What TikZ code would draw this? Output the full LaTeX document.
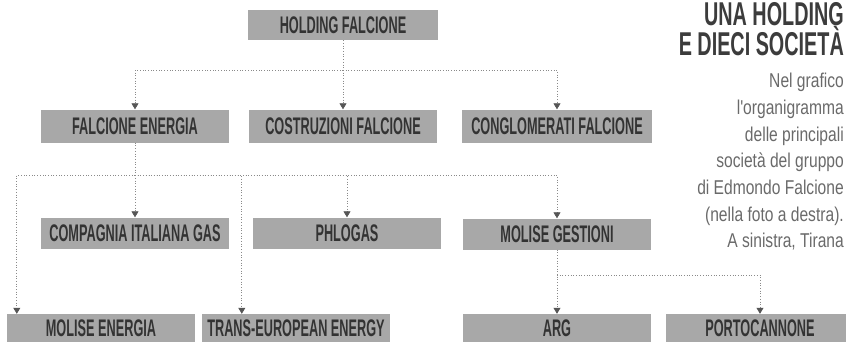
\documentclass[tikz,border=0pt]{standalone}
\usepackage{fontspec}
\usetikzlibrary{arrows.meta}
\newfontfamily\boxfont{Liberation Sans}[FakeStretch=0.53]
\newfontfamily\headfont{Liberation Sans}[FakeStretch=0.6]
\newfontfamily\notefont{Liberation Sans}[FakeStretch=0.78]
\definecolor{boxgray}{HTML}{A8A8A8}
\definecolor{boxtext}{HTML}{333333}
\definecolor{linkgray}{HTML}{8A8A8A}
\definecolor{tipgray}{HTML}{555555}
\definecolor{headgray}{HTML}{3C3C3C}
\definecolor{notegray}{HTML}{6A6A6A}

\begin{document}
\begin{tikzpicture}[x=1pt,y=-1pt,
  box/.style={fill=boxgray, text=boxtext, inner sep=0pt, minimum width=188pt,
    minimum height=31pt, font=\boxfont\bfseries\fontsize{24}{24}\selectfont},
  link/.style={draw=linkgray, dotted, line width=0.7pt,
    -{Triangle[width=7pt,length=6pt,color=tipgray]}},
  head/.style={text=headgray, inner sep=0pt, font=\headfont\bfseries\fontsize{33}{33}\selectfont},
  note/.style={text=notegray, inner sep=0pt, font=\notefont\fontsize{20}{20}\selectfont}]
  \useasboundingbox (0,0) rectangle (846,351);
  \clip (0,0) rectangle (846,351);

  % vertici del gruppo
  \node[box, minimum width=190pt, minimum height=30pt] (holding) at (343,25) {HOLDING FALCIONE};
  \node[box, minimum height=33pt] (energia) at (135,126) {FALCIONE ENERGIA};
  \node[box, minimum height=33pt] (costruzioni) at (343,126) {COSTRUZIONI FALCIONE};
  \node[box, minimum width=190pt, minimum height=33pt] (conglomerati) at (557,126) {CONGLOMERATI FALCIONE};

  \node[box] (compagnia) at (135,233) {COMPAGNIA ITALIANA GAS};
  \node[box] (phlogas) at (347,233) {PHLOGAS};
  \node[box] (gestioni) at (557,234) {MOLISE GESTIONI};

  \node[box, minimum height=28pt] (moliseenergia) at (101,328) {MOLISE ENERGIA};
  \node[box, minimum height=28pt] (trans) at (296,328) {TRANS-EUROPEAN ENERGY};
  \node[box, minimum height=28pt] (arg) at (557,328) {ARG};
  \node[box, minimum height=28pt] (portocannone) at (760,328) {PORTOCANNONE};

  % collegamenti
  \coordinate (topbus) at (holding.south |- 0,70);
  \draw[link] (holding.south) -- (costruzioni.north);
  \draw[link] (topbus) -| (energia.north);
  \draw[link] (topbus) -| (conglomerati.north);

  \coordinate (energiabus) at (energia.south |- 0,175);
  \draw[link] (energia.south) -- (compagnia.north);
  \draw[link] (energiabus) -| ([xshift=10pt]moliseenergia.north west);
  \draw[link] (energiabus) -| ([xshift=40pt]trans.north west);
  \draw[link] (energiabus) -| (phlogas.north);
  \draw[link] (energiabus) -| (gestioni.north);

  \coordinate (gestionibus) at (gestioni.south |- 0,275);
  \draw[link] (gestioni.south) -- (arg.north);
  \draw[link] (gestionibus) -| (portocannone.north);

  % titolo e didascalia
  \node[head, anchor=base east] (title1) at (844,25) {UNA HOLDING};
  \node[head, anchor=base east] (title2) at (844,55) {E DIECI SOCIETÀ};
  \foreach \txt [count=\i] in {Nel grafico, l'organigramma, delle principali,
      società del gruppo, di Edmondo Falcione, (nella foto a destra).,
      {A sinistra, Tirana}} {
    \node[note, anchor=base east] (note\i) at (844,{61+26.7*\i}) {\txt};
  }
\end{tikzpicture}
\end{document}
